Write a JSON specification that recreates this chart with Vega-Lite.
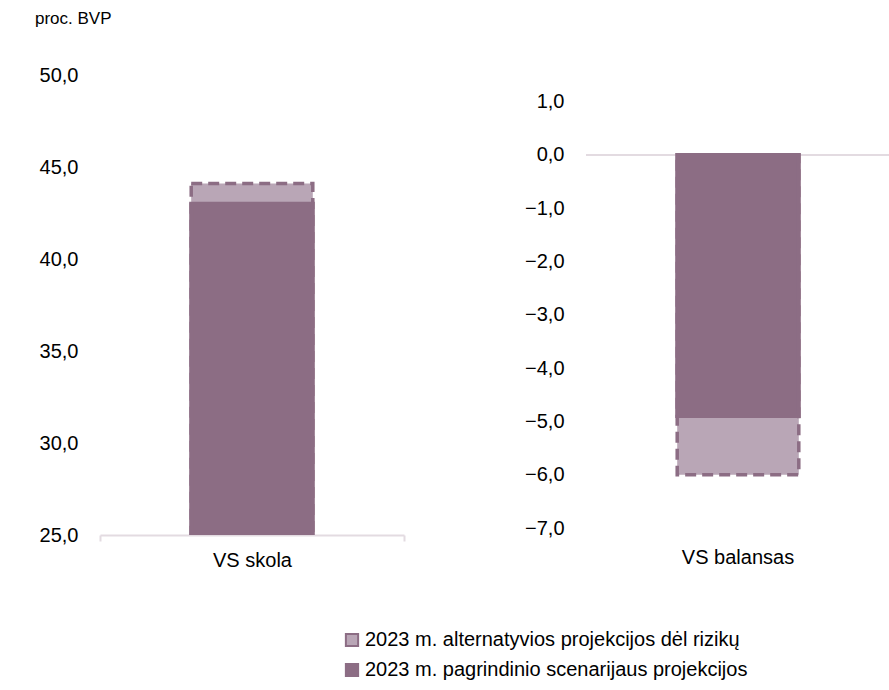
{
  "$schema": "https://vega.github.io/schema/vega-lite/v6.json",
  "padding": {"left": 35, "top": 10, "right": 0, "bottom": 0},
  "autosize": {"type": "pad"},
  "title": {"text": "proc. BVP", "anchor": "start", "fontSize": 17, "fontWeight": "normal", "color": "#000000", "font": "Liberation Sans", "offset": 37},
  "datasets": {
    "bars": [
      {"panel": "VS skola", "series": "2023 m. alternatyvios projekcijos dėl rizikų", "value": 44.1},
      {"panel": "VS skola", "series": "2023 m. pagrindinio scenarijaus projekcijos", "value": 43.0},
      {"panel": "VS balansas", "series": "2023 m. alternatyvios projekcijos dėl rizikų", "value": -6.0},
      {"panel": "VS balansas", "series": "2023 m. pagrindinio scenarijaus projekcijos", "value": -4.9}
    ]
  },
  "config": {
    "locale": {"number": {"decimal": ",", "thousands": " ", "grouping": [3], "currency": ["", " €"], "minus": "−"}},
    "font": "Liberation Sans",
    "view": {"stroke": null},
    "axis": {"labelFontSize": 20, "labelColor": "#000000", "labelFont": "Liberation Sans", "grid": false, "title": null},
    "legend": {"labelFontSize": 20, "labelColor": "#000000", "labelFont": "Liberation Sans", "labelLimit": 0}
  },
  "spacing": 113,
  "hconcat": [
    {
      "width": 304,
      "height": 460,
      "data": {"name": "bars"},
      "transform": [{"filter": "datum.panel === 'VS skola'"}],
      "encoding": {
        "x": {"field": "panel", "type": "nominal", "scale": {"paddingInner": 0, "paddingOuter": 0},
              "axis": {"labelAngle": 0, "domainColor": "#e3dbe1", "domainWidth": 2, "tickBand": "extent", "tickColor": "#e3dbe1", "tickWidth": 2, "tickSize": 6, "labelPadding": 9}},
        "y": {"field": "value", "type": "quantitative", "scale": {"domain": [25, 50], "zero": false, "nice": false},
              "axis": {"values": [25, 30, 35, 40, 45, 50], "format": ".1f", "domain": false, "ticks": false, "labelPadding": 22, "minExtent": 65, "maxExtent": 65}}
      },
      "layer": [
        {
          "transform": [{"filter": "datum.series === '2023 m. alternatyvios projekcijos dėl rizikų'"}],
          "mark": {"type": "bar", "width": {"band": 0.4}, "stroke": "#8c6d84", "strokeWidth": 3.5, "strokeDash": [11, 6], "clip": true},
          "encoding": {"color": {"field": "series", "type": "nominal",
            "scale": {"domain": ["2023 m. alternatyvios projekcijos dėl rizikų", "2023 m. pagrindinio scenarijaus projekcijos"], "range": ["#b9a6b6", "#8c6d84"]},
            "legend": {"orient": "none", "legendX": 242, "legendY": 555, "title": null, "symbolType": "square", "symbolSize": 150, "symbolStrokeColor": "#8c6d84", "symbolStrokeWidth": 2, "labelOffset": 3, "rowPadding": 8, "direction": "vertical"}}}
        },
        {
          "transform": [{"filter": "datum.series === '2023 m. pagrindinio scenarijaus projekcijos'"}],
          "mark": {"type": "bar", "width": {"band": 0.4}, "stroke": "#8c6d84", "strokeWidth": 4, "clip": true},
          "encoding": {"color": {"field": "series", "type": "nominal"}}
        }
      ]
    },
    {
      "width": 304,
      "height": 453,
      "data": {"name": "bars"},
      "transform": [{"filter": "datum.panel === 'VS balansas'"}],
      "encoding": {
        "x": {"field": "panel", "type": "nominal", "scale": {"paddingInner": 0, "paddingOuter": 0},
              "axis": {"labelAngle": 0, "domain": false, "ticks": false, "labelPadding": 19}},
        "y": {"field": "value", "type": "quantitative", "scale": {"domain": [-7, 1.5], "nice": false},
              "axis": {"values": [-7, -6, -5, -4, -3, -2, -1, 0, 1], "format": ".1f", "domain": false, "ticks": false, "labelPadding": 22, "minExtent": 68, "maxExtent": 68}}
      },
      "layer": [
        {
          "mark": {"type": "rule", "color": "#e3dbe1", "strokeWidth": 2},
          "encoding": {"y": {"datum": 0}, "x": {"value": 0}, "x2": {"value": 304}}
        },
        {
          "transform": [{"filter": "datum.series === '2023 m. alternatyvios projekcijos dėl rizikų'"}],
          "mark": {"type": "bar", "width": {"band": 0.4}, "stroke": "#8c6d84", "strokeWidth": 3.5, "strokeDash": [11, 6]},
          "encoding": {"color": {"field": "series", "type": "nominal"}}
        },
        {
          "transform": [{"filter": "datum.series === '2023 m. pagrindinio scenarijaus projekcijos'"}],
          "mark": {"type": "bar", "width": {"band": 0.4}, "stroke": "#8c6d84", "strokeWidth": 4},
          "encoding": {"color": {"field": "series", "type": "nominal"}}
        }
      ]
    }
  ],
  "resolve": {"scale": {"y": "independent", "x": "independent"}}
}
